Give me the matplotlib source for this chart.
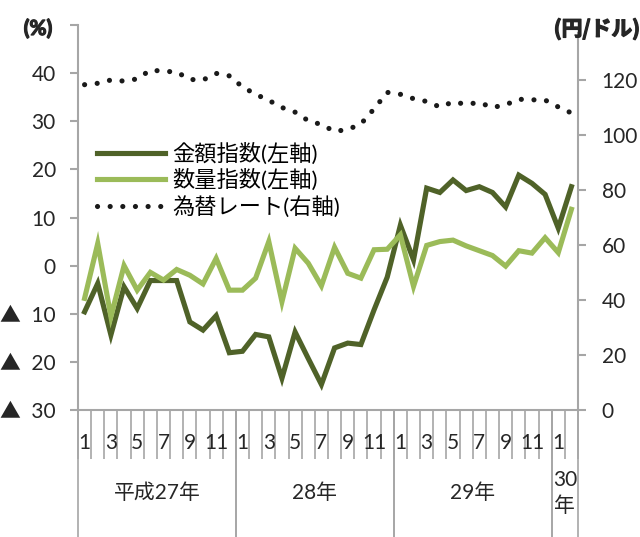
import matplotlib
matplotlib.use('Agg')
import matplotlib.pyplot as plt
import matplotlib.transforms as mtransforms
import matplotlib.patheffects as pe
import numpy as np

plt.rcParams['font.family'] = ['Lato', 'Noto Sans CJK JP', 'DejaVu Sans']

# monthly data, Jan 2015 (平成27年) .. Feb 2018 (30年)
kingaku = [-9.6, -3.7, -14.4, -4.4, -8.9, -3.1, -3.1, -3.1, -11.7, -13.4, -10.4, -18.1,
           -17.8, -14.3, -14.8, -23.4, -13.8, -19.3, -24.7, -17.1, -16.1, -16.4, -9.2, -2.4,
           8.4, 1.2, 16.1, 15.2, 17.8, 15.6, 16.4, 15.2, 12.2, 18.8, 17.1, 14.8,
           7.8, 16.4]
suryo = [-6.8, 4.6, -10.6, 0.0, -5.1, -1.4, -3.0, -0.8, -2.0, -3.8, 1.5, -5.1,
         -5.1, -2.6, 5.0, -7.5, 3.6, 0.5, -4.2, 3.8, -1.6, -2.6, 3.3, 3.4,
         6.4, -4.3, 4.2, 5.0, 5.3, 4.1, 3.1, 2.1, -0.1, 3.1, 2.6, 5.8,
         2.7, 11.7]
rate = [118.3, 118.8, 120.0, 119.6, 120.4, 123.6, 123.2, 122.9, 120.2, 120.0, 122.4, 121.5,
        117.5, 114.8, 112.6, 110.0, 108.3, 105.2, 103.8, 101.3, 102.0, 104.0, 109.5, 115.5,
        114.8, 113.2, 112.2, 110.2, 112.0, 111.2, 111.8, 110.0, 111.0, 113.0, 112.8, 112.7,
        110.2, 108.0]
months = [1, 2, 3, 4, 5, 6, 7, 8, 9, 10, 11, 12] * 3 + [1, 2]
years = ['平成27年', '28年', '29年', '30\n年']
year_len = [12, 12, 12, 2]

dark = '#4f6228'
light = '#9bbb59'
gray = '#a6a6a6'
txt = '#262626'

fig = plt.figure(figsize=(6.4, 5.37), dpi=100)
ax = fig.add_axes([78 / 640, 127 / 537, 500 / 640, 385 / 537])
x = np.arange(len(kingaku))

l1, = ax.plot(x, kingaku, color=dark, lw=3.7, solid_joinstyle='miter', label='金額指数(左軸)')
l2, = ax.plot(x, suryo, color=light, lw=3.7, solid_joinstyle='miter', label='数量指数(左軸)')

ax.set_xlim(-0.5, len(x) - 0.5)
ax.set_ylim(-30, 50)
yt = np.arange(-30, 51, 10)
ax.set_yticks(yt)
ylabels = []
for v in yt:
    if v == 50:
        ylabels.append('')
    elif v < 0:
        ylabels.append('▲\u2002' + str(-v))
    else:
        ylabels.append(str(v))
ax.set_yticklabels(ylabels, fontsize=15, color=txt)
ax.tick_params(axis='y', length=6, width=1.5, color=gray, pad=10)

for s in ['top', 'right']:
    ax.spines[s].set_visible(False)
for s in ['left', 'bottom']:
    ax.spines[s].set_color(gray)
    ax.spines[s].set_linewidth(1.5)

# x ticks at month boundaries
ax.set_xticks(np.arange(-0.5, len(x), 1))
ax.set_xticklabels([])
ax.tick_params(axis='x', length=35, width=1.2, color=gray)

trans = mtransforms.blended_transform_factory(ax.transData, ax.transAxes)
for i, m in enumerate(months):
    if m % 2 == 1:
        ax.text(i, -33 / 385, str(m), transform=trans, ha='center', va='center',
                fontsize=15, color=txt)

start = 0
for name, n in zip(years, year_len):
    for b in [start - 0.5, start + n - 0.5]:
        ax.plot([b, b], [0, -127 / 385], transform=trans, color=gray, lw=1.2, clip_on=False)
    cx = start + (n - 1) / 2
    if '\n' in name:
        ax.text(cx, -83 / 385, name, transform=trans, ha='center', va='center',
                fontsize=15, color=txt, linespacing=1.35)
    else:
        ax.text(cx, -83 / 385, name, transform=trans, ha='center', va='center',
                fontsize=15, color=txt)
    start += n

ax2 = ax.twinx()
l3, = ax2.plot(x, rate, color='#1a1a1a', lw=3.7, linestyle=(0, (0.01, 2.45)),
               dash_capstyle='round', label='為替レート(右軸)')
ax2.set_ylim(0, 140)
ax2.set_yticks(np.arange(0, 121, 20))
ax2.set_yticklabels([str(v) for v in range(0, 121, 20)], fontsize=15, color=txt)
ax2.tick_params(axis='y', length=6, width=1.5, color=gray, pad=11)
for s in ['top', 'left', 'bottom']:
    ax2.spines[s].set_visible(False)
ax2.spines['right'].set_color(gray)
ax2.spines['right'].set_linewidth(1.5)
ax2.spines['right'].set_bounds(0, 137)

ax2.legend(handles=[l1, l2, l3], loc='center left',
           bbox_to_anchor=((97 - 78) / 500, (410 - 180) / 385),
           frameon=False, fontsize=16, handlelength=3.05, handletextpad=0.32,
           labelspacing=0.2, borderaxespad=0, borderpad=0)

bold = [pe.withStroke(linewidth=0.9, foreground=txt)]
fig.text(38 / 640, 1 - 29 / 537, '(%)', ha='center', va='center', fontsize=15,
         fontweight='bold', color=txt, path_effects=bold)
fig.text(597 / 640, 1 - 29 / 537, '(円/ドル)', ha='center', va='center', fontsize=15,
         fontweight='bold', color=txt, family=['Noto Sans CJK JP', 'DejaVu Sans'],
         path_effects=bold)

fig.savefig('out.png', dpi=100)
